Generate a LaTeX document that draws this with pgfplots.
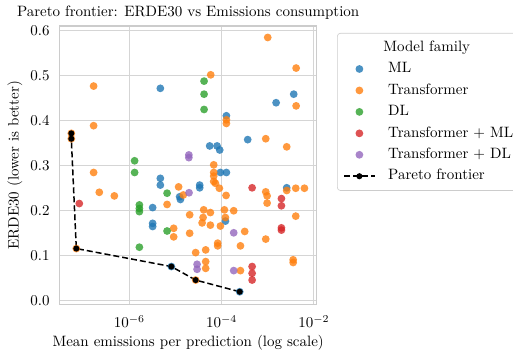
\documentclass[border=0pt]{standalone}
\usepackage{pgfplots}
\pgfplotsset{compat=1.18}
\definecolor{cML}{HTML}{1F77B4}
\definecolor{cTR}{HTML}{FF7F0E}
\definecolor{cDL}{HTML}{2CA02C}
\definecolor{cTM}{HTML}{D62728}
\definecolor{cTD}{HTML}{9467BD}
\definecolor{gridc}{HTML}{D5D5D5}
\definecolor{framec}{HTML}{CCCCCC}
\begin{document}
\begin{tikzpicture}
\path[use as bounding box] (-39.8pt,-34.3pt) rectangle (302.2pt,203pt);
\begin{axis}[
  at={(0,0)}, anchor=south west,
  scale only axis, width=171.3pt, height=185.7pt,
  xmode=log, xmin=3.09e-8, xmax=1.15e-2,
  ymin=-0.0093, ymax=0.6096,
  xtick={1e-6,1e-4,1e-2},
  ytick={0,0.1,0.2,0.3,0.4,0.5,0.6},
  yticklabel style={/pgf/number format/fixed, /pgf/number format/fixed zerofill, /pgf/number format/precision=1,
    anchor=east, inner sep=0pt, xshift=-6.5pt},
  xticklabel style={anchor=base, inner sep=0pt, yshift=-15.3pt},
  grid=major, major grid style={gridc, line width=0.6pt},
  axis line style={framec, line width=0.8pt},
  tick style={draw=none}, minor tick style={draw=none},
  title={Pareto frontier: ERDE30 vs Emissions consumption},
  title style={at={(axis description cs:0.5,1)}, anchor=base, inner sep=0pt},
  xlabel={Mean emissions per prediction (log scale)},
  xlabel style={at={(axis description cs:0.5,0)}, anchor=base, inner sep=0pt, yshift=-28.3pt},
  ylabel={ERDE30 (lower is better)},
  ylabel style={at={(axis description cs:0,0.5)}, anchor=center, inner sep=0pt, yshift=29.8pt},
  legend style={at={(1,1)}, anchor=north west, xshift=13.6pt, yshift=-4.7pt,
    draw=framec, fill=white, rounded corners=2pt, inner xsep=4pt, inner ysep=5pt,
    nodes={inner sep=0pt, text height=7pt, text depth=2pt}, row sep=5.3pt, column sep=0pt},
  legend cell align=left,
  legend image code/.code={\node[inner sep=0pt, minimum size=0pt, text height=0pt, text depth=0pt] at (28.9pt,0pt) {};
    \draw[mark repeat=2, mark phase=2, #1] plot coordinates {(0pt,0pt) (10.2pt,0pt) (20.4pt,0pt)};},
]
\addlegendimage{empty legend}
\addlegendentry{\hspace*{25.7pt}\makebox[0pt][c]{Model family}}

% ML
\addplot[only marks, mark=*, mark size=2.6pt, color=cML, mark options={fill opacity=0.8, draw opacity=0}] coordinates {
(4.70e-6,0.471) (3.66e-3,0.458) (1.52e-3,0.439) (1.27e-4,0.410) (3.68e-4,0.357)
(5.52e-5,0.343) (7.98e-5,0.343) (9.10e-5,0.334) (9.42e-5,0.284) (1.27e-4,0.284)
(3.35e-5,0.256) (3.35e-5,0.250) (4.70e-6,0.271) (4.70e-6,0.256) (1.23e-5,0.230)
(1.28e-5,0.224) (3.20e-6,0.206) (3.20e-6,0.171) (3.20e-6,0.164) (1.21e-4,0.176)
(2.58e-3,0.250) (8.15e-6,0.075) (2.47e-4,0.019)
};
\addlegendentry{ML}
% Transformer
\addplot[only marks, mark=*, mark size=2.6pt, color=cTR, mark options={fill opacity=0.8, draw opacity=0}] coordinates {
(1.68e-7,0.476) (1.68e-7,0.388) (5.52e-8,0.371) (5.52e-8,0.359) (1.68e-7,0.284)
(2.23e-7,0.240) (4.73e-7,0.232) (7.08e-8,0.115) (1.00e-3,0.584) (4.13e-3,0.516)
(5.81e-5,0.501) (4.13e-3,0.432) (1.27e-4,0.401) (1.27e-4,0.393) (9.06e-4,0.359)
(2.58e-3,0.341) (6.75e-5,0.301) (6.75e-5,0.284) (6.75e-5,0.276) (6.75e-5,0.264)
(7.35e-5,0.260) (8.95e-5,0.249) (1.25e-4,0.233) (9.06e-4,0.241) (9.70e-4,0.232)
(9.70e-4,0.216) (2.58e-3,0.244) (4.05e-3,0.249) (6.25e-3,0.249) (4.05e-3,0.187)
(9.06e-4,0.136) (3.56e-3,0.090) (3.56e-3,0.084) (3.17e-4,0.153) (1.17e-5,0.252)
(1.48e-5,0.234) (6.58e-6,0.213) (9.14e-6,0.160) (9.14e-6,0.141) (2.03e-5,0.190)
(2.03e-5,0.149) (4.09e-5,0.201) (3.97e-5,0.184) (3.78e-5,0.172) (5.71e-5,0.195)
(5.71e-5,0.167) (9.42e-5,0.165) (1.15e-4,0.201) (1.21e-4,0.184) (1.83e-4,0.199)
(8.22e-5,0.127) (8.22e-5,0.121) (2.74e-5,0.106) (4.52e-5,0.112) (2.56e-4,0.121)
(4.52e-5,0.086) (4.52e-5,0.071) (2.56e-4,0.066) (2.74e-5,0.045)
};
\addlegendentry{Transformer}
% DL
\addplot[only marks, mark=*, mark size=2.6pt, color=cDL, mark options={fill opacity=0.8, draw opacity=0}] coordinates {
(1.30e-6,0.310) (1.30e-6,0.284) (4.17e-5,0.487) (4.17e-5,0.458) (4.17e-5,0.424)
(6.58e-6,0.238) (1.65e-6,0.212) (1.65e-6,0.204) (1.65e-6,0.197) (6.58e-6,0.154)
(1.65e-6,0.118)
};
\addlegendentry{DL}
% Transformer + ML
\addplot[only marks, mark=*, mark size=2.6pt, color=cTM, mark options={fill opacity=0.8, draw opacity=0}] coordinates {
(8.22e-8,0.215) (4.59e-4,0.250) (1.98e-3,0.226) (1.98e-3,0.210) (1.98e-3,0.161)
(1.98e-3,0.156) (4.59e-4,0.075) (4.59e-4,0.060) (4.59e-4,0.045)
};
\addlegendentry{Transformer + ML}
% Transformer + DL
\addplot[only marks, mark=*, mark size=2.6pt, color=cTD, mark options={fill opacity=0.8, draw opacity=0}] coordinates {
(1.95e-5,0.323) (1.95e-5,0.317) (1.97e-5,0.239) (1.83e-4,0.150) (2.94e-5,0.080)
(2.94e-5,0.069) (1.83e-4,0.066)
};
\addlegendentry{Transformer + DL}
% Pareto frontier
\addplot[black, line width=1pt, dash pattern=on 4pt off 2pt, mark=*, mark size=1.5pt,
  mark options={solid}]
coordinates {
(5.52e-8,0.371) (5.52e-8,0.359) (7.08e-8,0.115) (8.15e-6,0.075) (2.74e-5,0.045) (2.47e-4,0.019)
};
\addlegendentry{Pareto frontier}
\end{axis}
\end{tikzpicture}
\end{document}
